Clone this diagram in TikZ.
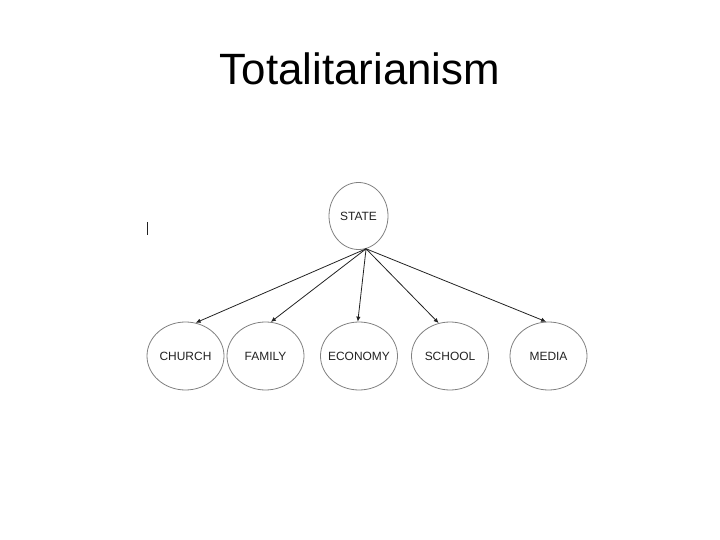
\documentclass[tikz,border=0pt]{standalone}
\usepackage{fontspec}
\setmainfont{Liberation Sans}
\usepackage{tikz}
\usetikzlibrary{arrows.meta,shapes.geometric}
\definecolor{ovalgray}{HTML}{808080}
\definecolor{darkgray}{HTML}{222222}
\tikzset{
  titletext/.style={font=\fontsize{44}{50}\selectfont, text=black},
  ovalnode/.style={ellipse, draw=ovalgray, line width=0.8pt, minimum width=77bp, minimum height=68bp, inner sep=0pt, font=\fontsize{12}{14}\selectfont, text=darkgray},
  topnode/.style={ovalnode, minimum width=59bp, minimum height=67bp},
  link/.style={darkgray, -{Latex[length=5pt,width=4.5pt]}, line width=0.8pt},
  cursorbar/.style={darkgray, line width=0.7pt}
}

\begin{document}
\begin{tikzpicture}[x=1bp,y=-1bp]
  \useasboundingbox (0,0) rectangle (720,540);
  \node[titletext] (title) at (360,69) {Totalitarianism};
  \node[topnode] (state) at (358.5,216) {\makebox[0pt]{STATE}};
  \coordinate (hub) at (state.-77);
  \foreach \name/\txt/\x/\ang in {church/CHURCH/185.5/73, family/FAMILY/265.5/81, economy/ECONOMY/359/92, school/SCHOOL/450/109, media/MEDIA/548.5/94}{
    \node[ovalnode] (\name) at (\x,356) {\makebox[0pt]{\txt}};
    \draw[link] (hub)--(\name.\ang);
  }
  \coordinate (bartop) at (147,222);
  \coordinate (barbot) at (147,235);
  \draw[cursorbar] (bartop)--(barbot);
\end{tikzpicture}
\end{document}
